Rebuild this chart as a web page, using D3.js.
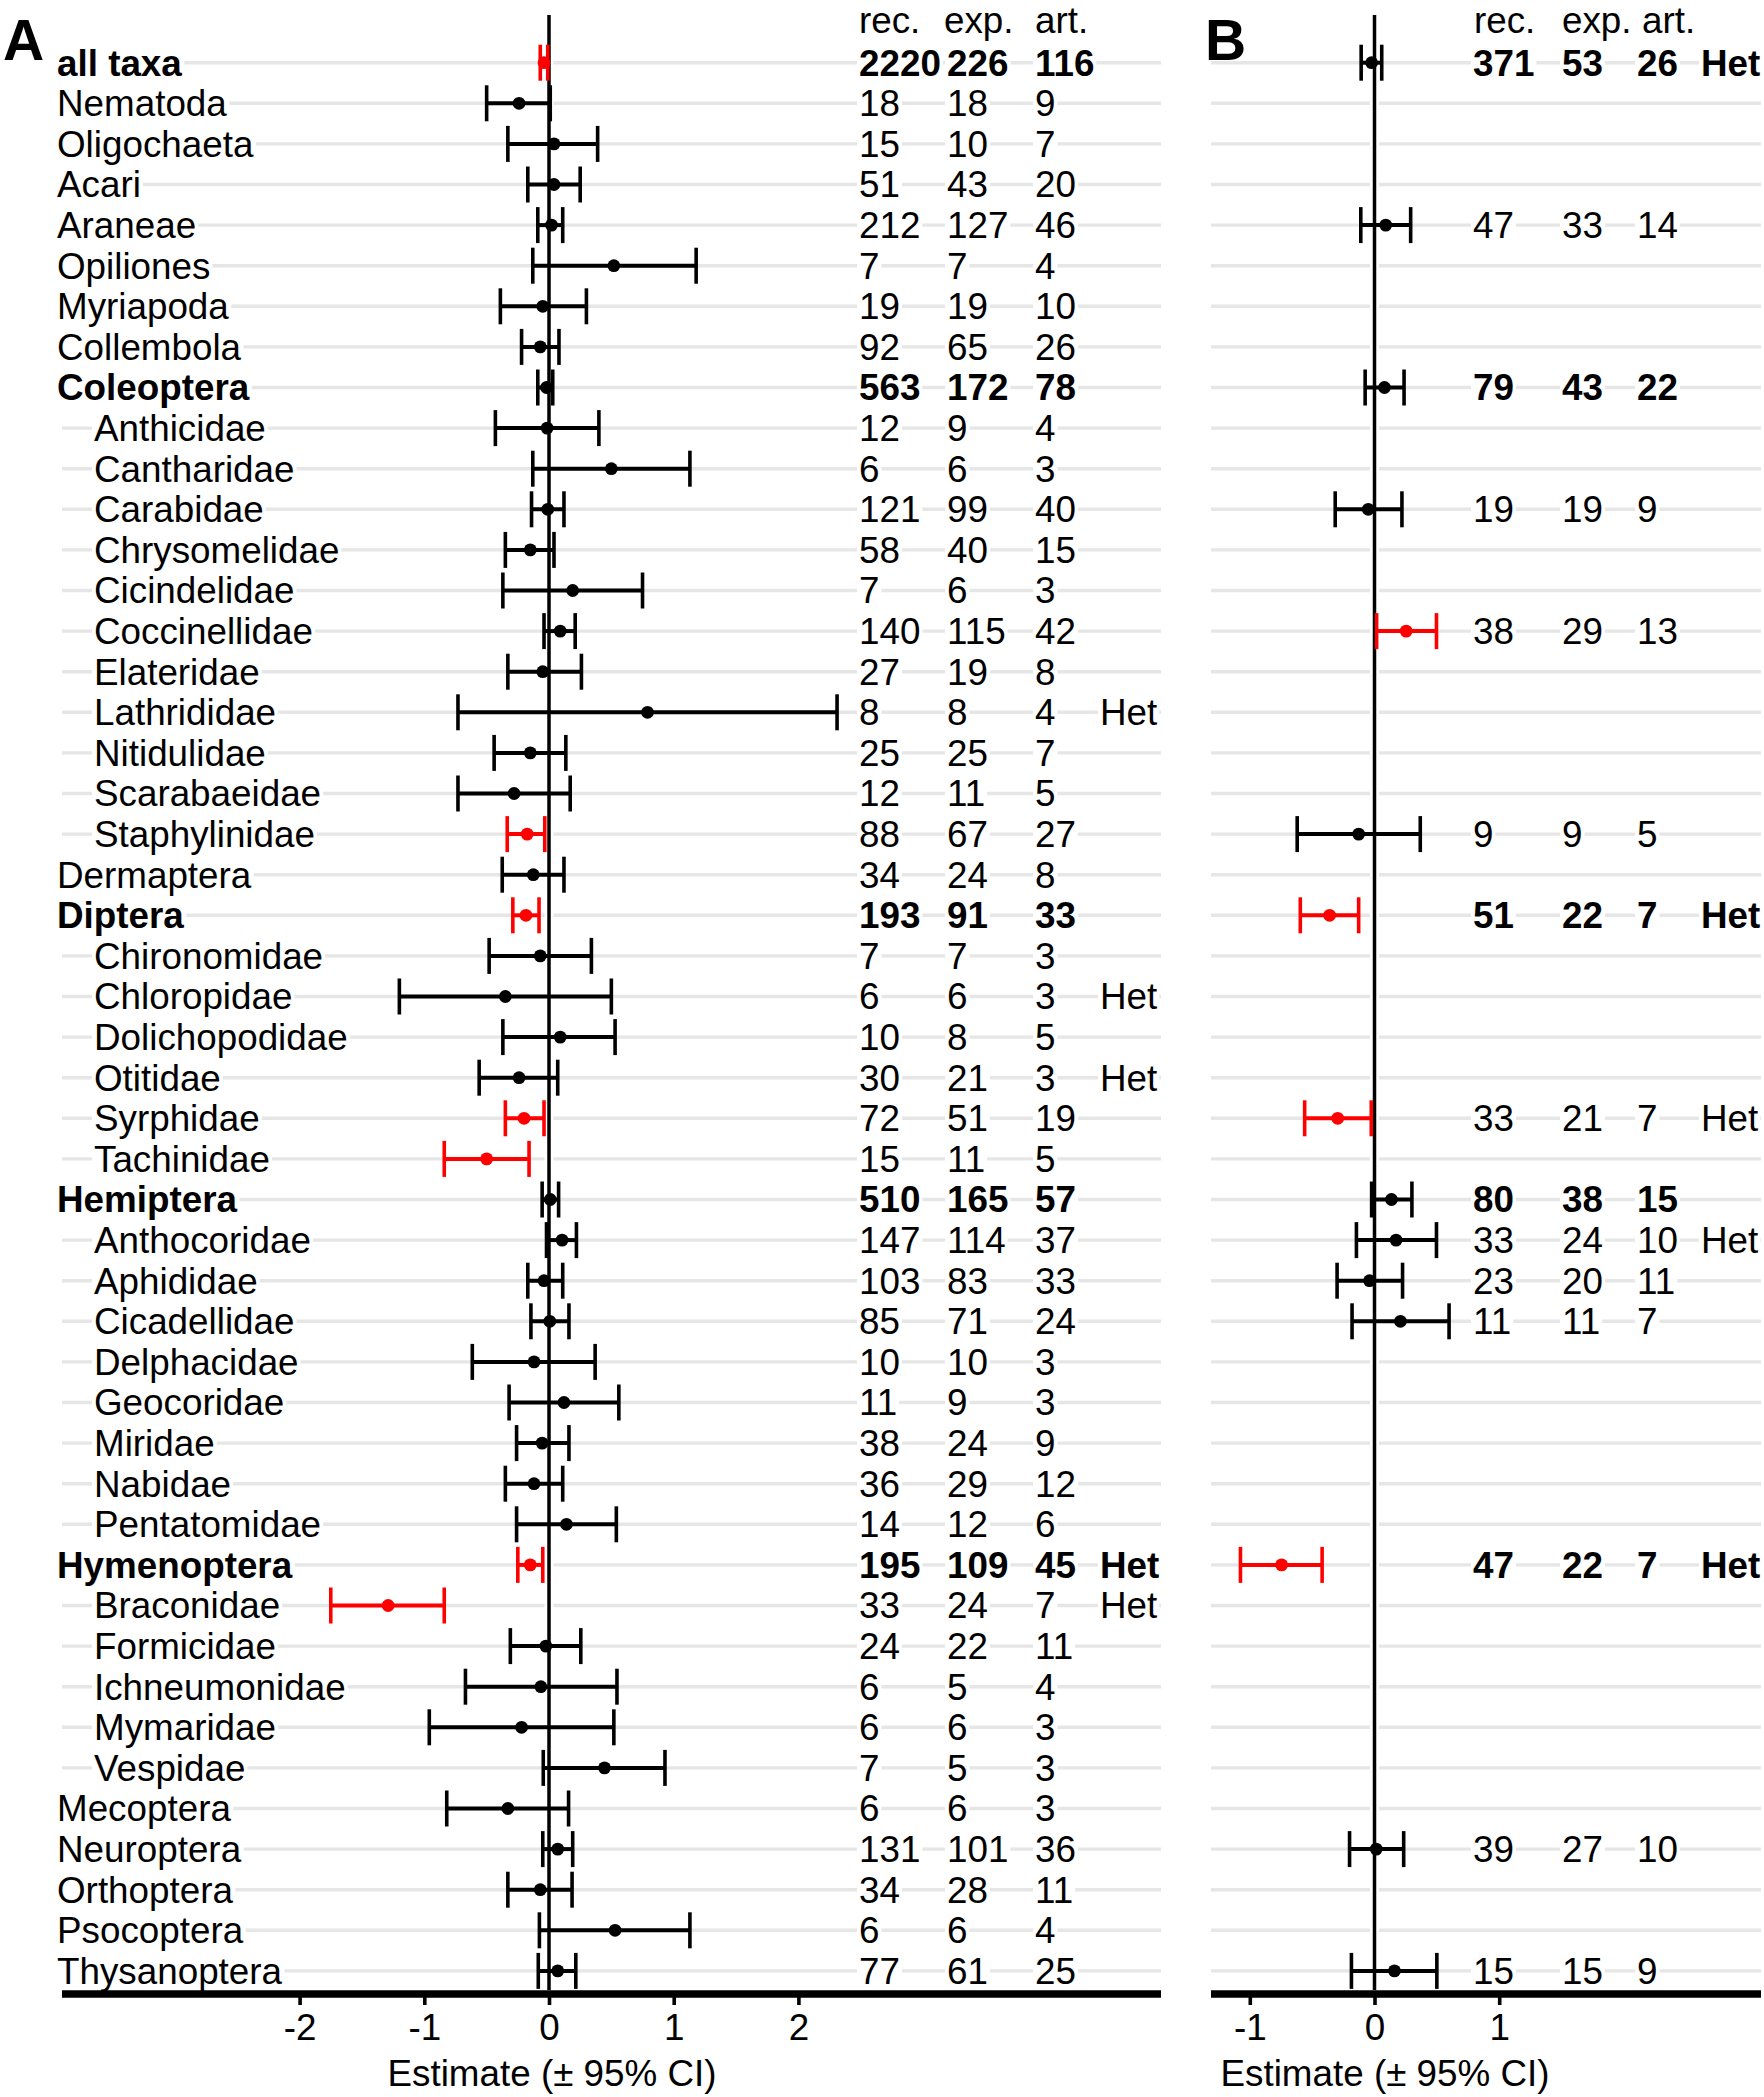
<!DOCTYPE html>
<html><head><meta charset="utf-8">
<script src="https://cdn.jsdelivr.net/npm/d3@7"></script>
<style>
body{margin:0;background:#fff}
svg{display:block}
text{font-family:"Liberation Sans",Arial,Helvetica,sans-serif}
</style>
</head><body>
<svg id="c" width="1764" height="2097"></svg>
<script>
// ---------------- DATA ----------------
const taxa = ["all taxa","Nematoda","Oligochaeta","Acari","Araneae","Opiliones","Myriapoda","Collembola",
  "Coleoptera","Anthicidae","Cantharidae","Carabidae","Chrysomelidae","Cicindelidae","Coccinellidae","Elateridae",
  "Lathrididae","Nitidulidae","Scarabaeidae","Staphylinidae","Dermaptera","Diptera","Chironomidae","Chloropidae",
  "Dolichopodidae","Otitidae","Syrphidae","Tachinidae","Hemiptera","Anthocoridae","Aphididae","Cicadellidae",
  "Delphacidae","Geocoridae","Miridae","Nabidae","Pentatomidae","Hymenoptera","Braconidae","Formicidae",
  "Ichneumonidae","Mymaridae","Vespidae","Mecoptera","Neuroptera","Orthoptera","Psocoptera","Thysanoptera"];
const indent = [0,0,0,0,0,0,0,0, 0,1,1,1,1,1,1,1, 1,1,1,1,0,0,1,1, 1,1,1,1,0,1,1,1, 1,1,1,1,1,0,1,1, 1,1,1,0,0,0,0,0];
const groups = ["all taxa","Coleoptera","Diptera","Hemiptera","Hymenoptera"];

// Panel A estimates and 95% CI
const estA = [-0.04,-0.24,0.04,0.04,0.02,0.52,-0.05,-0.07, -0.02,-0.015,0.50,-0.01,-0.15,0.19,0.09,-0.05,
  0.79,-0.15,-0.28,-0.175,-0.126,-0.185,-0.07,-0.35, 0.09,-0.24,-0.20,-0.50,0.01,0.105,-0.04,0.006,
  -0.12,0.12,-0.055,-0.12,0.14,-0.15,-1.29,-0.025, -0.065,-0.22,0.445,-0.33,0.07,-0.07,0.53,0.07];
const loA = [-0.07,-0.50,-0.33,-0.17,-0.09,-0.13,-0.39,-0.22, -0.09,-0.43,-0.13,-0.14,-0.35,-0.37,-0.04,-0.33,
  -0.73,-0.44,-0.73,-0.335,-0.375,-0.29,-0.48,-1.20, -0.37,-0.56,-0.35,-0.84,-0.055,-0.02,-0.17,-0.145,
  -0.615,-0.32,-0.26,-0.35,-0.26,-0.25,-1.75,-0.31, -0.67,-0.96,-0.046,-0.82,-0.05,-0.33,-0.077,-0.086];
const hiA = [-0.01,0.01,0.39,0.25,0.11,1.18,0.30,0.08, 0.03,0.40,1.13,0.12,0.04,0.75,0.21,0.26,
  2.31,0.135,0.17,-0.034,0.12,-0.08,0.34,0.50, 0.53,0.07,-0.04,-0.16,0.077,0.22,0.11,0.16,
  0.37,0.56,0.16,0.11,0.54,-0.05,-0.84,0.255, 0.545,0.52,0.93,0.157,0.19,0.185,1.13,0.215];
const sigA = [1,0,0,0,0,0,0,0, 0,0,0,0,0,0,0,0, 0,0,0,1,0,1,0,0, 0,0,1,1,0,0,0,0, 0,0,0,0,0,1,1,0, 0,0,0,0,0,0,0,0];
const recA = [2220,18,15,51,212,7,19,92, 563,12,6,121,58,7,140,27, 8,25,12,88,34,193,7,6, 10,30,72,15,510,147,103,85,
  10,11,38,36,14,195,33,24, 6,6,7,6,131,34,6,77];
const expA = [226,18,10,43,127,7,19,65, 172,9,6,99,40,6,115,19, 8,25,11,67,24,91,7,6, 8,21,51,11,165,114,83,71,
  10,9,24,29,12,109,24,22, 5,6,5,6,101,28,6,61];
const artA = [116,9,7,20,46,4,10,26, 78,4,3,40,15,3,42,8, 4,7,5,27,8,33,3,3, 5,3,19,5,57,37,33,24,
  3,3,9,12,6,45,7,11, 4,3,3,3,36,11,4,25];
const hetA = ["Lathrididae","Chloropidae","Otitidae","Hymenoptera","Braconidae"];

// Panel B
const taxaB = ["all taxa","Araneae","Coleoptera","Carabidae","Coccinellidae","Staphylinidae","Diptera","Syrphidae",
  "Hemiptera","Anthocoridae","Aphididae","Cicadellidae","Hymenoptera","Neuroptera","Thysanoptera"];
const estB = [-0.023,0.09,0.08,-0.05,0.254,-0.127,-0.36,-0.295,0.136,0.173,-0.04,0.208,-0.745,0.014,0.16];
const loB  = [-0.107,-0.11,-0.075,-0.315,0.017,-0.62,-0.595,-0.56,-0.023,-0.145,-0.30,-0.18,-1.075,-0.20,-0.185];
const hiB  = [0.058,0.29,0.237,0.22,0.497,0.367,-0.127,-0.026,0.30,0.497,0.225,0.598,-0.42,0.234,0.50];
const sigB = [0,0,0,0,1,0,1,1,0,0,0,0,1,0,0];
const recB = [371,47,79,19,38,9,51,33,80,33,23,11,47,39,15];
const expB = [53,33,43,19,29,9,22,21,38,24,20,11,22,27,15];
const artB = [26,14,22,9,13,5,7,7,15,10,11,7,7,10,9];
const hetB = ["all taxa","Diptera","Syrphidae","Anthocoridae","Hymenoptera"];

const colHeaders = ["rec.","exp.","art."];
const ticksA = [-2,-1,0,1,2];
const ticksB = [-1,0,1];
const axisTitle = "Estimate (\u00b1 95% CI)";

// ---------------- LAYOUT ----------------
const FS = 36.8;
const RED = "#ff0000";
const svg = d3.select("#c");
svg.append("rect").attr("width",1764).attr("height",2097).attr("fill","#fff");

const y = d3.scalePoint().domain(taxa).range([62.7, 1970.9]);
const xA = d3.scaleLinear().domain([-2,2]).range([549-249.4, 549+249.4]);
const xB = d3.scaleLinear().domain([-1,1]).range([1374.5-124.7, 1374.5+124.7]);

const gGrid = svg.append("g");
const gBg = svg.append("g");
const gZero = svg.append("g");
const gMarks = svg.append("g");
const gText = svg.append("g");

function txt(x, yy, s, bold, opts={}) {
  const t = gText.append("text").attr("x", x).attr("y", yy).attr("dy", opts.dy ?? "0.35em")
    .attr("font-size", opts.fs ?? FS).attr("font-weight", bold ? "bold" : "normal")
    .attr("fill", "#000").attr("text-anchor", opts.anchor ?? "start").text(s);
  if (opts.bg !== false) {
    const b = t.node().getBBox();
    gBg.append("rect").attr("x", b.x - 2).attr("y", yy - 8).attr("width", b.width + 4).attr("height", 16).attr("fill", "#fff");
  }
  return t;
}

function panel(cfg) {
  const {x, gx0, gx1, names, est, lo, hi, sig, rec, exp, art, het, cols, ticks, titleX, letter, letterX} = cfg;
  // gridlines
  gGrid.selectAll(null).data(taxa).join("line")
    .attr("x1", gx0).attr("x2", gx1).attr("y1", d => y(d)).attr("y2", d => y(d))
    .attr("stroke", "#e6e6e6").attr("stroke-width", 3.4);
  // zero line with white casing
  gZero.append("line").attr("x1", x(0)).attr("x2", x(0)).attr("y1", 15).attr("y2", 1990)
    .attr("stroke", "#fff").attr("stroke-width", 9);
  gZero.append("line").attr("x1", x(0)).attr("x2", x(0)).attr("y1", 15).attr("y2", 1990)
    .attr("stroke", "#000").attr("stroke-width", 3.5);
  // error bars
  const rows = names.map((n,i) => ({n, e: est[i], l: lo[i], h: hi[i], c: sig[i] ? RED : "#000"}));
  const g = gMarks.selectAll(null).data(rows).join("g");
  g.append("line").attr("x1", d => x(d.l)).attr("x2", d => x(d.h)).attr("y1", d => y(d.n)).attr("y2", d => y(d.n))
    .attr("stroke", d => d.c).attr("stroke-width", 4);
  g.append("line").attr("x1", d => x(d.l)).attr("x2", d => x(d.l)).attr("y1", d => y(d.n) - 18).attr("y2", d => y(d.n) + 18)
    .attr("stroke", d => d.c).attr("stroke-width", 3.6);
  g.append("line").attr("x1", d => x(d.h)).attr("x2", d => x(d.h)).attr("y1", d => y(d.n) - 18).attr("y2", d => y(d.n) + 18)
    .attr("stroke", d => d.c).attr("stroke-width", 3.6);
  g.append("circle").attr("cx", d => x(d.e)).attr("cy", d => y(d.n)).attr("r", 6.4).attr("fill", d => d.c);
  // columns
  colHeaders.forEach((h,k) => txt(cols.head[k], 33, h, false, {dy: 0, bg: false}));
  names.forEach((n,i) => {
    const b = groups.includes(n);
    txt(cols.num[0], y(n), String(rec[i]), b);
    txt(cols.num[1], y(n), String(exp[i]), b);
    txt(cols.num[2], y(n), String(art[i]), b);
    if (het.includes(n)) txt(cols.num[3], y(n), "Het", b);
  });
  // axis
  gMarks.append("line").attr("x1", gx0).attr("x2", gx1).attr("y1", 1994).attr("y2", 1994)
    .attr("stroke", "#000").attr("stroke-width", 7.5);
  const ax = svg.append("g").attr("transform", "translate(0,1997)")
    .call(d3.axisBottom(x).tickValues(ticks).tickSize(8).tickPadding(9).tickFormat(d => String(d)));
  ax.select(".domain").remove();
  ax.selectAll(".tick line").attr("stroke", "#000").attr("stroke-width", 3.6);
  ax.selectAll(".tick text").attr("fill", "#000").attr("font-size", FS)
    .attr("font-family", '"Liberation Sans",Arial,Helvetica,sans-serif');
  svg.append("text").attr("x", titleX).attr("y", 2086).attr("text-anchor", "middle")
    .attr("font-size", FS).attr("fill", "#000").text(axisTitle);
  svg.append("text").attr("x", letterX).attr("y", 60).attr("font-size", 57).attr("font-weight", "bold")
    .attr("fill", "#000").text(letter);
}

panel({x: xA, gx0: 62, gx1: 1161, names: taxa, est: estA, lo: loA, hi: hiA, sig: sigA,
  rec: recA, exp: expA, art: artA, het: hetA,
  cols: {head: [859, 944, 1035], num: [859, 947, 1035, 1100]},
  ticks: ticksA, titleX: 552, letter: "A", letterX: 3});
panel({x: xB, gx0: 1211, gx1: 1761, names: taxaB, est: estB, lo: loB, hi: hiB, sig: sigB,
  rec: recB, exp: expB, art: artB, het: hetB,
  cols: {head: [1474, 1562, 1642], num: [1473, 1562, 1637, 1701]},
  ticks: ticksB, titleX: 1385, letter: "B", letterX: 1205});

// row labels (panel A)
taxa.forEach((n,i) => txt(indent[i] ? 94 : 57, y(n), n, groups.includes(n)));
</script>
</body></html>
